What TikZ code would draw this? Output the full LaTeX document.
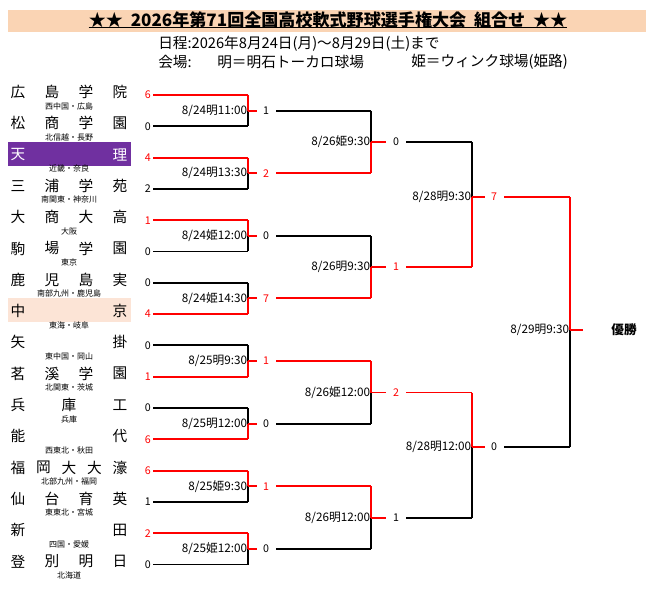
\documentclass[tikz,border=0pt]{standalone}
\usepackage{fontspec}
\setmainfont{Noto Sans CJK JP}
\usetikzlibrary{positioning,calc}

\definecolor{titlebg}{HTML}{FAD4B4}
\definecolor{tenri}{HTML}{7030A0}
\definecolor{chukyo}{HTML}{FCE4D6}
\definecolor{winred}{HTML}{FF0000}

\tikzset{
  bl/.style={line width=1.4pt},
  sc/.style={font=\fontsize{8}{9}\selectfont, inner sep=0pt, anchor=east},
  tm/.style={font=\fontsize{8.8}{10}\selectfont, inner sep=0.5pt, anchor=east},
  nm/.style={font=\fontsize{11}{12}\selectfont, inner sep=0pt},
  sub/.style={font=\fontsize{6}{7}\selectfont, inner sep=0pt},
  hd/.style={font=\fontsize{11}{12}\selectfont, inner sep=0pt, anchor=west},
}

% bracket line: name, x start, x end, y, score, colour, gap
\newcommand{\bline}[7]{%
  \coordinate (#1s) at (#2,#4);
  \coordinate (#1e) at (#3,#4);
  \draw[bl,#6] (#1s) -- (#1e);
  \node[sc,text=#6,xshift=-#7] (#1n) at (#1s) {#5};}

% join: name, top line, bottom line, y mid, top colour, bottom colour, stub, time
\newcommand{\bjoin}[8]{%
  \coordinate (#1) at (#2e |- 0,#4);
  \draw[bl,#5] (#2e) -- (#1);
  \draw[bl,#6] (#1) -- (#3e);
  \draw[bl,winred] (#1) -- ++(#7,0) coordinate (#1x);
  \node[tm] (#1t) at (#1) {#8};}

% team: y, n, chars, sub label
\newcommand{\team}[4]{%
  \foreach \c [count=\i] in {#3}
    \node[nm] at ({18+(\i-1)*102/(#2-1)},#1) {\c};
  \node[sub] at (69,#1+14) {#4};}

\begin{document}
\begin{tikzpicture}[x=0.75pt,y=-0.75pt]
\useasboundingbox (0,0) rectangle (656,591);

% heading
\fill[titlebg] (8,10) rectangle (646,32);
\node[font=\bfseries\fontsize{12.8}{14}\selectfont, inner sep=0pt] (title) at (328,20)
  {★★\ \ 2026年第71回全国高校軟式野球選手権大会\ \ 組合せ\ \ ★★};
\draw[line width=0.8pt] (title.south west) ++(0,-1) -- ($(title.south east)+(0,-1)$);
\node[hd] (sched) at (158,44) {日程:2026年8月24日(月)～8月29日(土)まで};
\node[hd] (venue) at (158,62) {会場:};
\node[hd] (akashi) at (217,62) {明＝明石トーカロ球場};
\node[hd] (himeji) at (411,62) {姫＝ウィンク球場(姫路)};

% highlighted teams
\fill[tenri] (8,142) rectangle (131,166);
\fill[chukyo] (8,298) rectangle (131,322);

% teams
\team{92}{4}{広,島,学,院}{西中国・広島}
\team{123.3}{4}{松,商,学,園}{北信越・長野}
\begin{scope}[every node/.append style={text=white,font=\bfseries\fontsize{11}{12}\selectfont}]
\foreach \c [count=\i] in {天,理} \node[nm] at ({18+(\i-1)*102},154.6) {\c};
\end{scope}
\node[sub] at (69,168.6) {近畿・奈良};
\team{185.9}{4}{三,浦,学,苑}{南関東・神奈川}
\team{217.2}{4}{大,商,大,高}{大阪}
\team{248.5}{4}{駒,場,学,園}{東京}
\team{279.8}{4}{鹿,児,島,実}{南部九州・鹿児島}
\team{311.1}{2}{中,京}{東海・岐阜}
\team{342.4}{2}{矢,掛}{東中国・岡山}
\team{373.7}{4}{茗,溪,学,園}{北関東・茨城}
\team{405}{3}{兵,庫,工}{兵庫}
\team{436.3}{2}{能,代}{西東北・秋田}
\team{467.6}{5}{福,岡,大,大,濠}{北部九州・福岡}
\team{498.9}{4}{仙,台,育,英}{東東北・宮城}
\team{530.2}{2}{新,田}{四国・愛媛}
\team{561.5}{4}{登,別,明,日}{北海道}

% first round
\bline{a1}{153}{248}{95}{6}{winred}{1.5pt}
\bline{a2}{153}{248}{126.3}{0}{black}{1.5pt}
\bline{a3}{153}{248}{157.6}{4}{winred}{1.5pt}
\bline{a4}{153}{248}{188.9}{2}{black}{1.5pt}
\bline{a5}{153}{248}{220.2}{1}{winred}{1.5pt}
\bline{a6}{153}{248}{251.5}{0}{black}{1.5pt}
\bline{a7}{153}{248}{282.8}{0}{black}{1.5pt}
\bline{a8}{153}{248}{314.1}{4}{winred}{1.5pt}
\bline{a9}{153}{248}{345.4}{0}{black}{1.5pt}
\bline{a10}{153}{248}{376.7}{1}{winred}{1.5pt}
\bline{a11}{153}{248}{408}{0}{black}{1.5pt}
\bline{a12}{153}{248}{439.3}{6}{winred}{1.5pt}
\bline{a13}{153}{248}{470.6}{6}{winred}{1.5pt}
\bline{a14}{153}{248}{501.9}{1}{black}{1.5pt}
\bline{a15}{153}{248}{533.2}{2}{winred}{1.5pt}
\bline{a16}{153}{248}{564.5}{0}{black}{1.5pt}
\bjoin{m1}{a1}{a2}{110.6}{winred}{black}{9}{8/24明11:00}
\bjoin{m2}{a3}{a4}{173.2}{winred}{black}{9}{8/24明13:30}
\bjoin{m3}{a5}{a6}{235.8}{winred}{black}{9}{8/24姫12:00}
\bjoin{m4}{a7}{a8}{298.4}{black}{winred}{9}{8/24姫14:30}
\bjoin{m5}{a9}{a10}{361}{black}{winred}{9}{8/25明9:30}
\bjoin{m6}{a11}{a12}{423.6}{black}{winred}{9}{8/25明12:00}
\bjoin{m7}{a13}{a14}{486.2}{winred}{black}{9}{8/25姫9:30}
\bjoin{m8}{a15}{a16}{548.8}{winred}{black}{9}{8/25姫12:00}

% second round
\bline{b1}{276}{371}{110.6}{1}{black}{5pt}
\bline{b2}{276}{371}{173.2}{2}{winred}{5pt}
\bline{b3}{276}{371}{235.8}{0}{black}{5pt}
\bline{b4}{276}{371}{298.4}{7}{winred}{5pt}
\bline{b5}{276}{371}{361}{1}{winred}{5pt}
\bline{b6}{276}{371}{423.6}{0}{black}{5pt}
\bline{b7}{276}{371}{486.2}{1}{winred}{5pt}
\bline{b8}{276}{371}{548.8}{0}{black}{5pt}
\bjoin{n1}{b1}{b2}{142}{black}{winred}{15}{8/26姫9:30}
\bjoin{n2}{b3}{b4}{267}{black}{winred}{15}{8/26明9:30}
\bjoin{n3}{b5}{b6}{392.5}{winred}{black}{15}{8/26姫12:00}
\bjoin{n4}{b7}{b8}{518}{winred}{black}{15}{8/26明12:00}

% semi-finals
\bline{c1}{406}{472}{142}{0}{black}{5pt}
\bline{c2}{406}{472}{267}{1}{winred}{5pt}
\bline{c3}{406}{472}{392.5}{2}{winred}{5pt}
\bline{c4}{406}{472}{518}{1}{black}{5pt}
\bjoin{s1}{c1}{c2}{197}{black}{winred}{13}{8/28明9:30}
\bjoin{s2}{c3}{c4}{447}{winred}{black}{13}{8/28明12:00}

% final
\bline{d1}{504}{570}{197}{7}{winred}{5pt}
\bline{d2}{504}{570}{447}{0}{black}{5pt}
\bjoin{f}{d1}{d2}{330}{winred}{black}{13}{8/29明9:30}
\node[font=\bfseries\fontsize{9.5}{10}\selectfont, inner sep=0pt] (champ) at (624,330) {優勝};

\end{tikzpicture}
\end{document}
